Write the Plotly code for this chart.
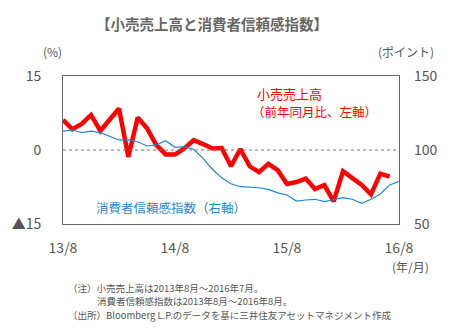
import plotly.graph_objects as go

months = [f"{2013 + (7 + i) // 12}-{(7 + i) % 12 + 1:02d}" for i in range(37)]

retail_sales = [6.1, 4.2, 5.3, 7.1, 3.9, 6.2, 8.4, -1.4, 6.6, 4.4, 1.0, -0.9,
                -0.9, 0.3, 2.0, 1.2, 0.3, 0.4, -3.3, 0.2, -3.3, -4.5, -2.8, -4.1,
                -6.9, -6.5, -5.8, -7.9, -7.1, -10.4, -4.3, -5.7, -7.1, -9.0, -4.8, -5.4]

consumer_conf = [112.8, 113.5, 111.7, 112.8, 111.7, 109.5, 106.8, 106.8, 105.6, 102.7, 103.4, 106.3,
                 101.8, 102.3, 100.5, 94.4, 87.0, 81.2, 77.2, 75.2, 74.8, 74.5, 73.4, 71.0,
                 69.6, 65.5, 66.2, 66.7, 65.1, 66.2, 67.8, 66.7, 64.0, 66.7, 70.3, 76.4, 78.8]

x_tick_vals = ["2013-08", "2014-08", "2015-08", "2016-08"]
x_tick_text = ["13/8", "14/8", "15/8", "16/8"]
left_tick_vals = [-15, 0, 15]
left_tick_text = ["▲15", "0", "15"]
right_tick_vals = [50, 100, 150]

FONT = "Noto Sans CJK JP"
GRAY = "#555555"
RED = "#ff0000"
BLUE = "#1f86cf"

fig = go.Figure()
fig.add_trace(go.Scatter(x=months[:len(consumer_conf)], y=consumer_conf, mode="lines",
                         line=dict(color=BLUE, width=1.2), yaxis="y2", showlegend=False))
fig.add_trace(go.Scatter(x=months[:len(retail_sales)], y=retail_sales, mode="lines",
                         line=dict(color=RED, width=4.5), yaxis="y", showlegend=False))

fig.add_shape(type="line", xref="paper", x0=0, x1=1, yref="y", y0=0, y1=0,
              line=dict(color="#777777", width=1, dash="dot"))

fig.update_layout(
    width=456, height=335,
    margin=dict(l=63, r=57, t=76, b=111),
    paper_bgcolor="white", plot_bgcolor="white",
    font=dict(family=FONT, color=GRAY, size=14),
    xaxis=dict(type="category", categoryorder="array", categoryarray=months,
               range=[0, 36], tickvals=x_tick_vals, ticktext=x_tick_text,
               showgrid=False, zeroline=False, showline=True, mirror=True,
               linecolor="#666666", linewidth=1, ticks="", ticklabelstandoff=11,
               tickfont=dict(size=14, color=GRAY)),
    yaxis=dict(range=[-15, 15], tickvals=left_tick_vals, ticktext=left_tick_text,
               showgrid=False, zeroline=False, showline=True, mirror=True,
               linecolor="#666666", linewidth=1, ticks="", ticklabelstandoff=18,
               tickfont=dict(size=14, color=GRAY)),
    yaxis2=dict(range=[50, 150], tickvals=right_tick_vals, overlaying="y", side="right",
                showgrid=False, zeroline=False, showline=False, ticks="",
                ticklabelstandoff=14, tickfont=dict(size=14, color=GRAY)),
)

ann = [
    dict(text="<b>【小売売上高と消費者信頼感指数】</b>", x=212, y=23, size=14.5, color="#666666", xanchor="center"),
    dict(text="(%)", x=52, y=52, size=12, color=GRAY, xanchor="center"),
    dict(text="(ポイント)", x=406, y=52, size=12, color=GRAY, xanchor="center"),
    dict(text="(年/月)", x=410, y=266, size=12, color=GRAY, xanchor="center"),
    dict(text="小売売上高", x=255, y=93, size=13, color=RED, xanchor="left"),
    dict(text="（前年同月比、左軸）", x=250, y=111, size=12.5, color=RED, xanchor="left"),
    dict(text="消費者信頼感指数（右軸）", x=94, y=207, size=12.5, color=BLUE, xanchor="left"),
    dict(text="（注）小売売上高は2013年8月～2016年7月。", x=66, y=287.5, size=9.5, color=GRAY, xanchor="left"),
    dict(text="消費者信頼感指数は2013年8月～2016年8月。", x=95, y=301, size=9.5, color=GRAY, xanchor="left"),
    dict(text="（出所）Bloomberg L.P.のデータを基に三井住友アセットマネジメント作成", x=66, y=314.5, size=9.5, color=GRAY, xanchor="left"),
]
for a in ann:
    fig.add_annotation(text=a["text"], xref="paper", yref="paper",
                       x=(a["x"] - 63) / (456 - 63 - 57),
                       y=1 - (a["y"] - 76) / (335 - 76 - 111),
                       xanchor=a["xanchor"], yanchor="middle", align="left", showarrow=False,
                       font=dict(family=FONT, size=a["size"], color=a["color"]))

fig.write_html("out.html")
